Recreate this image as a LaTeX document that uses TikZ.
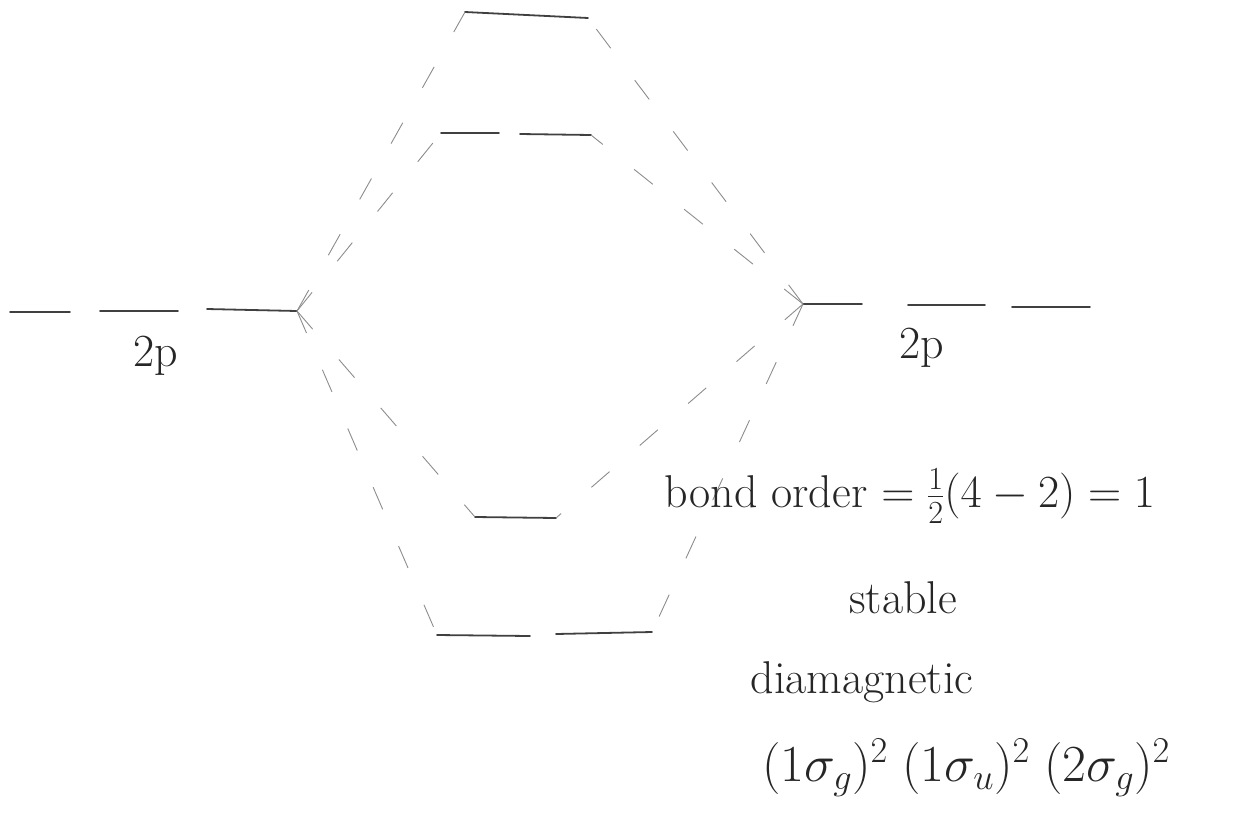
\RequirePackage{fix-cm}
\documentclass[tikz,border=0pt]{standalone}
\usepackage{amsmath}
\usepackage{tikz}

\begin{document}
\begin{tikzpicture}[x=1pt,y=-1pt,
		level/.style={line width=1.8pt,black!75,line cap=round},
		corr/.style={line width=0.9pt,black!45,dash pattern=on 24pt off 40pt},
		every node/.style={font=\fontsize{46}{52}\selectfont,text=black!85,inner sep=0pt,anchor=center}]
		\useasboundingbox (0,0) rectangle (1248,812);
		
		% atomic 2p, left
		\coordinate (pa1s) at (10,312);  \coordinate (pa1e) at (70,312);
		\coordinate (pa2s) at (100,311); \coordinate (pa2e) at (178,311);
		\coordinate (pa3s) at (207,309); \coordinate (pa3e) at (297,311);
		% atomic 2p, right
		\coordinate (pb1s) at (803,304); \coordinate (pb1e) at (862,304);
		\coordinate (pb2s) at (908,305); \coordinate (pb2e) at (985,305);
		\coordinate (pb3s) at (1012,307); \coordinate (pb3e) at (1090,307);
		% molecular orbitals
		\coordinate (sus) at (465,12);  \coordinate (sue) at (588,18);
		\coordinate (pg1s) at (441,133); \coordinate (pg1e) at (499,133);
		\coordinate (pg2s) at (520,134); \coordinate (pg2e) at (591,135);
		\coordinate (sgs) at (475,517);  \coordinate (sge) at (556,518);
		\coordinate (pu1s) at (437,635); \coordinate (pu1e) at (530,636);
		\coordinate (pu2s) at (556,634); \coordinate (pu2e) at (652,632);
		
		\draw[level] (pa1s) -- (pa1e) (pa2s) -- (pa2e) (pa3s) -- (pa3e);
		\draw[level] (pb1s) -- (pb1e) (pb2s) -- (pb2e) (pb3s) -- (pb3e);
		\draw[level] (sus) -- (sue);
		\draw[level] (pg1s) -- (pg1e) (pg2s) -- (pg2e);
		\draw[level] (sgs) -- (sge);
		\draw[level] (pu1s) -- (pu1e) (pu2s) -- (pu2e);
		
		\draw[corr] 
			(pa3e) edge (sus)
			(pa3e) edge (pg1s)
			(pa3e) edge (sgs)
			(pa3e) edge (pu1s)
			(pb1s) edge (sue)
			(pb1s) edge (pg2e)
			(pb1s) edge (sge)
			(pb1s) edge (pu2e);
		
		\node (lpa) at (156,356) {2p};
		\node (lpb) at (922,348) {2p};
		
		\node (bo) at (910,496) {bond order $=\tfrac{1}{2}(4-2)=1$};
		\node (st) at (903,598) {stable};
		\node (dm) at (862,682) {diamagnetic};
		\node[font=\fontsize{52}{58}\selectfont] (ec) at (966,768) {$(1\sigma_g)^2\;(1\sigma_u)^2\;(2\sigma_g)^2$};
	\end{tikzpicture}
\end{document}
